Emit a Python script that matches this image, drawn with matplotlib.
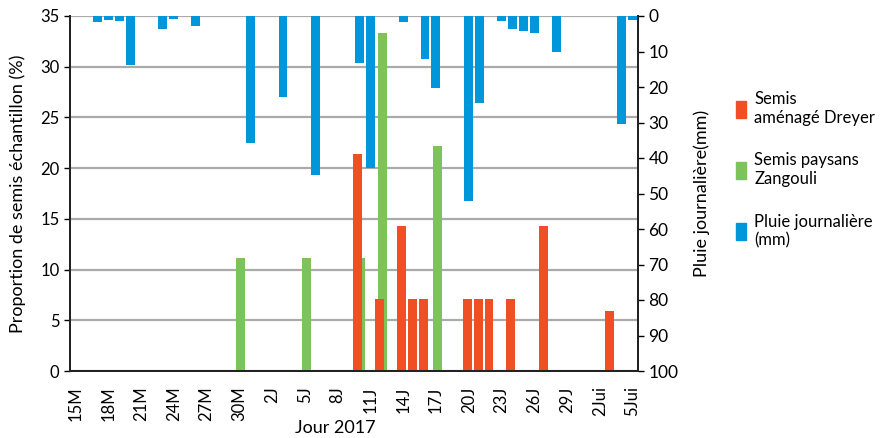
import numpy as np
import matplotlib
matplotlib.use('Agg')
import matplotlib.pyplot as plt
from matplotlib.patches import Patch

plt.rcParams['font.family'] = ['Lato', 'DejaVu Sans']

# jours comptés depuis le 15 mai 2017
jours_dreyer = [26, 28, 30, 31, 32, 36, 37, 38, 40, 43, 49]
semis_dreyer = [21.4, 7.1, 14.3, 7.1, 7.1, 7.1, 7.1, 7.1, 7.1, 14.3, 5.9]

jours_zangouli = [15, 21, 26, 28, 33]
semis_zangouli = [11.1, 11.1, 11.1, 33.3, 22.2]

jours_pluie = [2, 3, 4, 5, 8, 9, 11, 16, 19, 22, 26, 27, 30, 32, 33, 36, 37,
               39, 40, 41, 42, 44, 50, 51]
pluie = [1.6, 1.0, 1.3, 13.7, 3.7, 0.8, 2.7, 35.9, 22.7, 44.9, 13.1, 42.9, 1.6,
         12.0, 20.4, 52.2, 24.4, 1.3, 3.8, 4.1, 4.7, 10.0, 30.3, 1.0]

etiquettes = ['15M', '18M', '21M', '24M', '27M', '30M', '2J', '5J', '8J', '11J',
              '14J', '17J', '20J', '23J', '26J', '29J', '2Jui', '5Jui']

rouge = '#F04E23'
vert = '#7DC35B'
bleu = '#0096DA'

fig = plt.figure(figsize=(8.86, 4.38), dpi=100)
ax = fig.add_axes([70 / 886, 1 - 371 / 438, 568 / 886, 355 / 438])
ax2 = ax.twinx()

w = 0.82
ax.bar(np.array(jours_zangouli) + 0.14, semis_zangouli, width=w, color=vert, zorder=2)
ax.bar(np.array(jours_dreyer) - 0.14, semis_dreyer, width=w, color=rouge, zorder=3)
ax2.bar(jours_pluie, pluie, width=w, color=bleu)

ax.set_xlim(-0.5, 51.5)
ax.set_ylim(0, 35)
ax.set_yticks(range(0, 36, 5))
ax.yaxis.grid(True, color='#aaaaaa', linewidth=1.6)
ax.set_axisbelow(True)
ax2.set_ylim(100, 0)
ax2.set_yticks(range(0, 101, 10))

ax.set_xticks(range(0, 52, 3))
ax.set_xticklabels(etiquettes, rotation=90, fontsize=12)
ax.tick_params(axis='x', length=0, pad=11)
ax.tick_params(axis='y', labelsize=12, length=4, width=1)
ax2.tick_params(axis='y', labelsize=12.5, length=4, width=1)

for a in (ax, ax2):
    a.spines['top'].set_visible(False)
    for s in ('left', 'right', 'bottom'):
        a.spines[s].set_linewidth(1.4)
        a.spines[s].set_color('#222222')

ax.set_ylabel('Proportion de semis échantillon (%)', fontsize=13, labelpad=10)
ax2.set_ylabel('Pluie journalière(mm)', fontsize=13, labelpad=11)
fig.text(335 / 886, 1 - 428 / 438, 'Jour 2017', fontsize=13, ha='center', va='center')

handles = [Patch(color=rouge), Patch(color=vert), Patch(color=bleu)]
labels = ['Semis\naménagé Dreyer', 'Semis paysans\nZangouli', 'Pluie journalière\n(mm)']
fig.legend(handles, labels, loc='upper left', bbox_to_anchor=(721 / 886, 1 - 76 / 438),
           frameon=False, fontsize=12, handlelength=0.6, handleheight=1.2,
           handletextpad=0.5, labelspacing=1.6)

fig.savefig('out.png', dpi=100)
